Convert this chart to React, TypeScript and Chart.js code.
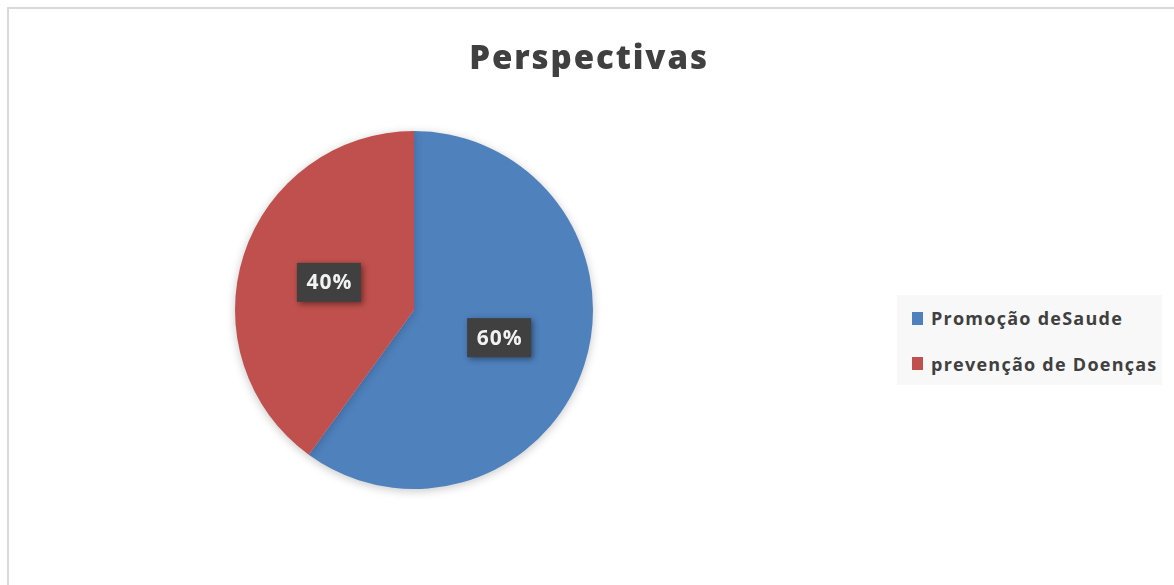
import React, { useEffect, useRef } from "react";
import { Chart, registerables } from "chart.js";

Chart.register(...registerables);

const title = "Perspectivas";
const categories = ["Promoção deSaude", "prevenção de Doenças"];
const values = [60, 40];
const percentLabels = ["60%", "40%"];
const colors = ["#4f81bd", "#c0504d"];

const FONT = "'Open Sans', 'DejaVu Sans', sans-serif";

export default function App() {
  const canvasRef = useRef<HTMLCanvasElement | null>(null);

  useEffect(() => {
    const canvas = canvasRef.current;
    if (!canvas) return;

    const framePlugin = {
      id: "frame",
      beforeDraw(chart: any) {
        const ctx = chart.ctx;
        ctx.save();
        ctx.fillStyle = "#ffffff";
        ctx.fillRect(0, 0, chart.width, chart.height);
        ctx.fillStyle = "#d9d9d9";
        ctx.fillRect(7, 7, chart.width - 7, 2);
        ctx.fillRect(7, 7, 2, chart.height - 7);
        ctx.restore();
      },
    };

    const shadowPlugin = {
      id: "pieShadow",
      beforeDatasetsDraw(chart: any) {
        const ctx = chart.ctx;
        ctx.save();
        ctx.shadowColor = "rgba(0,0,0,0.22)";
        ctx.shadowBlur = 10;
        ctx.shadowOffsetX = 0;
        ctx.shadowOffsetY = 2;
      },
      afterDatasetsDraw(chart: any) {
        chart.ctx.restore();
      },
    };

    const labelPlugin = {
      id: "pctLabels",
      afterDraw(chart: any) {
        const ctx = chart.ctx;
        const meta = chart.getDatasetMeta(0);
        ctx.save();
        ctx.font = `bold 21px ${FONT}`;
        ctx.textAlign = "center";
        ctx.textBaseline = "middle";
        try {
          (ctx as any).letterSpacing = "1px";
        } catch (e) {}
        meta.data.forEach((arc: any, i: number) => {
          const p = arc.getCenterPoint();
          const w = 64;
          const h = 39;
          ctx.save();
          ctx.shadowColor = "rgba(0,0,0,0.45)";
          ctx.shadowBlur = 6;
          ctx.shadowOffsetX = 2;
          ctx.shadowOffsetY = 2;
          ctx.fillStyle = "#404040";
          ctx.fillRect(p.x - w / 2, p.y - h / 2, w, h);
          ctx.restore();
          ctx.fillStyle = "#f2f2f2";
          ctx.fillText(percentLabels[i], p.x + 0.5, p.y + 1);
        });
        ctx.restore();
      },
    };

    const chart = new Chart(canvas, {
      type: "pie",
      data: {
        labels: categories,
        datasets: [
          {
            data: values,
            backgroundColor: colors,
            borderWidth: 0,
            hoverOffset: 0,
          },
        ],
      },
      options: {
        animation: false,
        responsive: false,
        events: [],
        layout: {
          padding: { top: 131, bottom: 96, left: 235, right: 581 },
        },
        plugins: {
          legend: { display: false },
          title: { display: false },
          tooltip: { enabled: false },
        },
      },
      plugins: [framePlugin, shadowPlugin, labelPlugin],
    });

    return () => chart.destroy();
  }, []);

  return (
    <div style={{ position: "fixed", left: 0, top: 0, width: 1174, height: 585, overflow: "hidden", background: "#fff" }}>
      <canvas ref={canvasRef} width={1174} height={585} style={{ position: "absolute", left: 0, top: 0, width: 1174, height: 585 }} />
      <div
        style={{
          position: "absolute",
          left: 2,
          width: 1174,
          top: 33,
          textAlign: "center",
          fontFamily: FONT,
          fontWeight: 800,
          fontSize: 33,
          letterSpacing: "1.9px",
          lineHeight: "48px",
          color: "#404040",
        }}
      >
        {title}
      </div>
      <div
        style={{
          position: "absolute",
          left: 897,
          top: 295,
          width: 265,
          height: 90,
          background: "#f8f8f8",
        }}
      >
        {categories.map((c, i) => (
          <div
            key={c}
            style={{
              position: "absolute",
              left: 15,
              top: 23 + i * 45.5 - 12,
              height: 24,
              display: "flex",
              alignItems: "center",
              whiteSpace: "nowrap",
              fontFamily: FONT,
              fontWeight: 700,
              fontSize: 18,
              letterSpacing: "1.25px",
              color: "#404040",
            }}
          >
            <span style={{ display: "inline-block", width: 11, height: 13, background: colors[i], marginRight: 8 }} />
            <span>{c}</span>
          </div>
        ))}
      </div>
    </div>
  );
}
